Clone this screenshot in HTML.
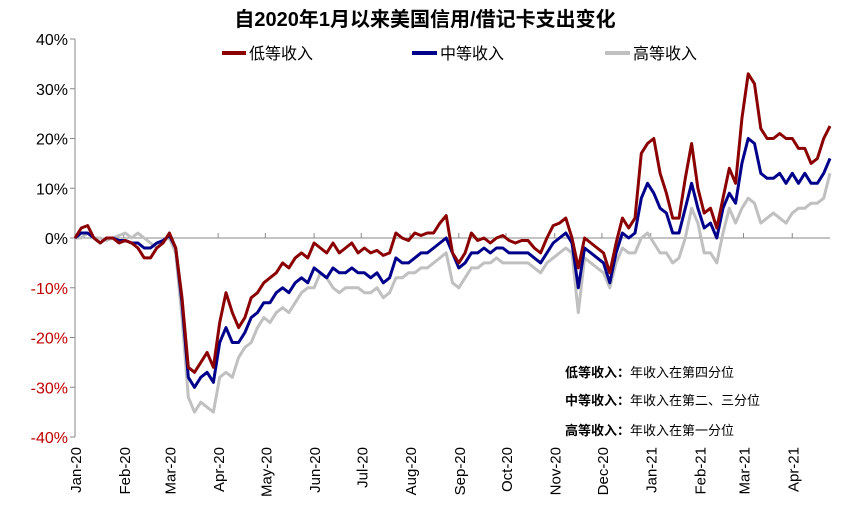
<!DOCTYPE html>
<html><head><meta charset="utf-8"><style>
body{margin:0;background:#fff;}
svg{display:block;font-family:"Liberation Sans","Noto Sans CJK SC",sans-serif;}
</style></head><body>
<svg id="chart" width="850" height="521" viewBox="0 0 850 521">
<text x="425" y="26" text-anchor="middle" font-size="20" font-weight="bold" fill="#000">自2020年1月以来美国信用/借记卡支出变化</text>
<g>
<g><line x1="222" y1="53" x2="246" y2="53" stroke="#8b0000" stroke-width="4"/><text x="249" y="59" font-size="16">低等收入</text></g>
<g><line x1="412" y1="53" x2="437" y2="53" stroke="#00008b" stroke-width="4"/><text x="440" y="59" font-size="16">中等收入</text></g>
<g><line x1="605" y1="53" x2="630" y2="53" stroke="#c0c0c0" stroke-width="4"/><text x="633" y="59" font-size="16">高等收入</text></g>
</g>
<g id="yaxis"></g>
<g id="xaxis"></g>
<g id="series"></g>
<g font-size="13">
<text x="565" y="377"><tspan font-weight="bold">低等收入：</tspan>年收入在第四分位</text>
<text x="565" y="405"><tspan font-weight="bold">中等收入：</tspan>年收入在第二、三分位</text>
<text x="565" y="435"><tspan font-weight="bold">高等收入：</tspan>年收入在第一分位</text>
</g>
</svg>
<script>
const dayStep = 4;
const yTicks = [40,30,20,10,0,-10,-20,-30,-40];
const monthLabels = ["Jan-20","Feb-20","Mar-20","Apr-20","May-20","Jun-20","Jul-20","Aug-20","Sep-20","Oct-20","Nov-20","Dec-20","Jan-21","Feb-21","Mar-21","Apr-21"];
const monthStartDays = [0,31,60,91,121,152,182,213,244,274,305,335,366,397,425,456];
const lowIncome = [0,2,2.5,0,-1,0,0,-1,-0.5,-1,-2,-4,-4,-2,-1,1,-2,-12,-26,-27,-25,-23,-26,-17,-11,-15,-18,-16,-12,-11,-9,-8,-7,-5,-6,-4,-3,-4,-1,-2,-3,-1,-3,-2,-1,-3,-2,-3,-2.5,-3.5,-3,1,0,-0.5,1,0.5,1,1,3,4.5,-3,-5,-3,1,-0.5,0,-1,0,0.5,-0.5,-1,-0.5,-0.5,-2,-3,0,2.5,3,4,0,-6,0,-1,-2,-3,-7,-1,4,2,4,17,19,20,13,9,4,4,12,19,10,5,6,2,8,14,11,24,33,31,22,20,20,21,20,20,18,18,15,16,20,22.5];
const midIncome = [0,1,1,0,-1,0,0,-0.5,-0.5,-1,-1,-2,-2,-1,-0.5,0.5,-2,-13,-28,-30,-28,-27,-29,-21,-18,-21,-21,-19,-16,-15,-13,-13,-11,-10,-11,-9,-8,-9,-6,-7,-8,-6,-7,-7,-6,-7,-7,-8,-7,-9,-8,-4,-5,-5,-4,-3,-3,-2,-1,0,-3,-6,-5,-3,-3,-2,-3,-2,-2,-3,-3,-3,-3,-4,-5,-3,-1,0,1,-1,-10,-2,-3,-4,-5,-9,-3,1,0,1,8,11,9,6,5,1,1,6,11,6,2,3,0,6,9,7,15,20,19,13,12,12,13,11,13,11,13,11,11,13,16];
const highIncome = [0,0,1,0,0,-0.5,0,0.5,1,0,1,0,-1,-2,-0.5,0,-3,-16,-32,-35,-33,-34,-35,-28,-27,-28,-24,-22,-21,-18,-16,-17,-15,-14,-15,-13,-11,-10,-10,-7,-8,-10,-11,-10,-10,-10,-11,-11,-10,-12,-11,-8,-8,-7,-7,-6,-6,-5,-4,-3,-9,-10,-8,-6,-6,-5,-5,-4,-5,-5,-5,-5,-5,-6,-7,-5,-4,-3,-2,-3,-15,-4,-5,-6,-7,-10,-5,-2,-3,-3,0,1,-1,-3,-3,-5,-4,0,6,3,-3,-3,-5,1,6,3,6,8,7,3,4,5,4,3,5,6,6,7,7,8,13];

const NS="http://www.w3.org/2000/svg";
const X0=75,X1=830,Y0=39,Y1=437;
const maxDay=(lowIncome.length-1)*dayStep;
function xs(d){return X0+(d/maxDay)*(X1-X0);}
function ys(v){return Y0+(40-v)/80*(Y1-Y0);}
function mk(tag,attrs,parent){const e=document.createElementNS(NS,tag);for(const k in attrs)e.setAttribute(k,attrs[k]);parent.appendChild(e);return e;}
const yax=document.getElementById('yaxis'),xax=document.getElementById('xaxis'),ser=document.getElementById('series');
const yl=mk('line',{x1:X0,y1:Y0,x2:X0,y2:Y1,stroke:'#888','stroke-width':1},yax);


yTicks.forEach(t=>{
  const tk=mk('line',{x1:X0-5,y1:ys(t),x2:X0,y2:ys(t),stroke:'#888'},yax);
  
  
  const tx=mk('text',{x:X0-7,y:ys(t)+6,'text-anchor':'end','font-size':16,fill:t<0?'#c00000':'#000'},yax);
  tx.textContent=t+'%';
  
  
});
const xl=mk('line',{x1:X0,y1:ys(0),x2:X1,y2:ys(0),stroke:'#888','stroke-width':1},xax);


monthLabels.forEach((m,i)=>{
  const x=xs(monthStartDays[i]);
  const tk=mk('line',{x1:x,y1:ys(0)-5,x2:x,y2:ys(0),stroke:'#888'},xax);
  
  
  const tx=mk('text',{x:0,y:0,'text-anchor':'end','font-size':15,transform:`translate(${x+6},447) rotate(-90)`},xax);
  tx.textContent=m;
  
  
});
function drawSeries(vals,color,name){
  const d=vals.map((v,i)=>(i?'L':'M')+xs(i*dayStep).toFixed(1)+','+ys(v).toFixed(1)).join(' ');
  const p=mk('path',{d:d,fill:'none',stroke:color,'stroke-width':3,'stroke-linejoin':'round'},ser);
  
  
}
drawSeries(highIncome,'#c0c0c0','line-high-income');
drawSeries(midIncome,'#00008b','line-mid-income');
drawSeries(lowIncome,'#8b0000','line-low-income');
</script>
</body></html>
